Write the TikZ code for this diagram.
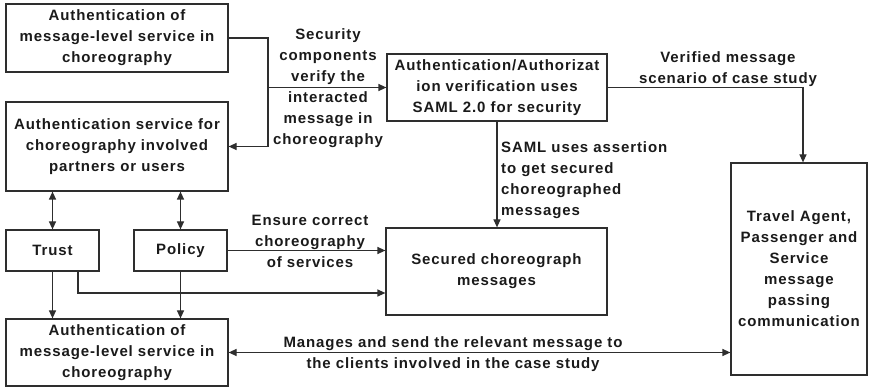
\documentclass[tikz,border=0pt]{standalone}
\usepackage{fontspec}
\setmainfont{Liberation Sans}[LetterSpace=6]
\usetikzlibrary{arrows.meta}
\definecolor{linec}{HTML}{2E2E2E}
\definecolor{textc}{HTML}{1A1A1A}
\newcommand\lblfont{\fontsize{15}{21}\selectfont\bfseries}
\begin{document}
\begin{tikzpicture}[x=1pt,y=-1pt,
  box/.style={draw=linec, line width=1.2pt, inner sep=0pt, align=center,
    font=\lblfont, text=textc},
  lab/.style={inner sep=0pt, align=center, font=\lblfont, text=textc},
  conn/.style={draw=linec, line width=1.2pt},
  arr/.style={conn, -{Triangle[length=8pt,width=7pt]}},
  arrtwo/.style={conn, {Triangle[length=8pt,width=7pt]}-{Triangle[length=8pt,width=7pt]}}]
\useasboundingbox (0,0) rectangle (871,387);

% boxes
\node[box, minimum width=222pt, minimum height=68pt] (auth1) at (117,38)
  {Authentication of\\message-level service in\\choreography};
\node[box, minimum width=222pt, minimum height=89pt] (authsvc) at (117,146.5)
  {Authentication service for\\choreography involved\\partners or users};
\node[box, minimum width=93pt, minimum height=41pt] (trust) at (52.5,250.5) {Trust};
\node[box, minimum width=93pt, minimum height=41pt] (policy) at (180.5,250.5) {Policy};
\node[box, minimum width=222pt, minimum height=67pt] (auth2) at (117,352.5)
  {Authentication of\\message-level service in\\choreography};
\node[box, minimum width=220pt, minimum height=67pt] (saml) at (497,87.5)
  {Authentication/Authorizat\\ion verification uses\\SAML 2.0 for security};
\node[box, minimum width=221pt, minimum height=87pt] (secured) at (496.5,271.5)
  {Secured choreograph\\messages};
\node[box, minimum width=136pt, minimum height=212pt] (travel) at (799,269)
  {Travel Agent,\\Passenger and\\Service\\message\\passing\\communication};

% junction of the security components line
\coordinate (junc) at (268,87.5);

% connectors
\draw[arr] (auth1.east) -| (junc) |- (authsvc.east);
\draw[arr] (junc) -- (saml.west);
\draw[arr] (saml.east) -| ([xshift=4pt]travel.north);
\draw[arr] (saml.south) -- (saml.south |- secured.north);
\draw[arrtwo] (trust.north) -- (trust.north |- authsvc.south);
\draw[arrtwo] (policy.north) -- (policy.north |- authsvc.south);
\draw[arr] (trust.south) -- (trust.south |- auth2.north);
\draw[arr] (policy.south) -- (policy.south |- auth2.north);
\draw[arr] ([xshift=25.5pt]trust.south) |- ([yshift=-21.5pt]secured.west);
\draw[arr] (policy.east) -- (policy.east -| secured.west);
\draw[arrtwo] (auth2.east) -- (auth2.east -| travel.west);

% connector labels
\node[lab] (lsec) at (328,88)
  {Security\\components\\verify the\\interacted\\message in\\choreography};
\node[lab] (lver) at (728,69) {Verified message\\scenario of case study};
\node[lab, anchor=west, align=left] (lsaml) at (501,180)
  {SAML uses assertion\\to get secured\\choreographed\\messages};
\node[lab] (lens) at (310,241) {Ensure correct\\choreography\\of services};
\node[lab] (lman) at (453,354)
  {Manages and send the relevant message to\\the clients involved in the case study};
\end{tikzpicture}
\end{document}
